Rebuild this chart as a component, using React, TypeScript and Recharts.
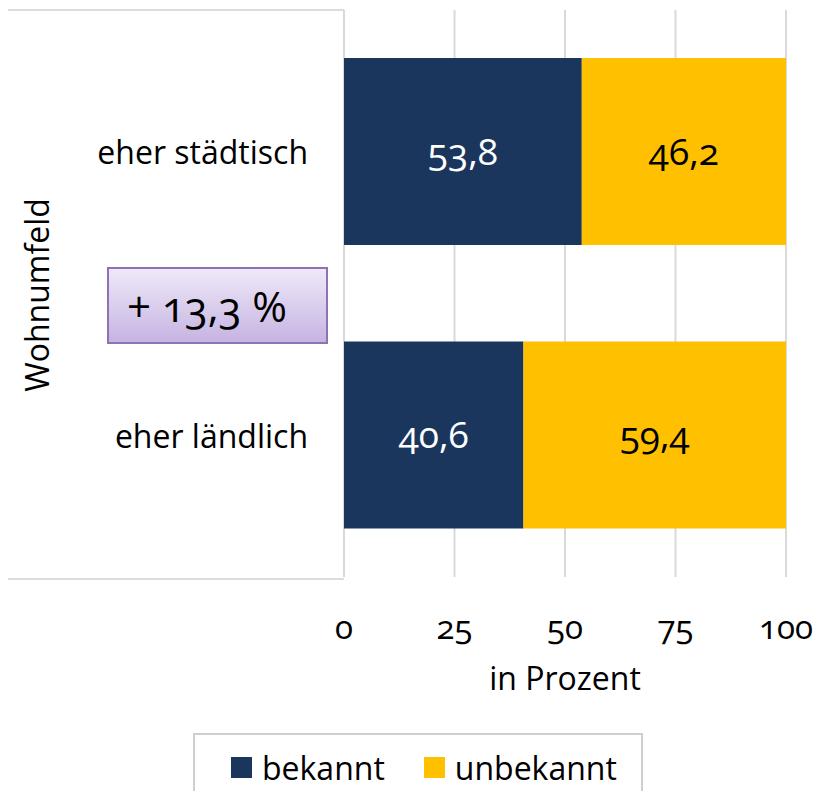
import React from 'react';
import { BarChart, Bar, XAxis, YAxis, CartesianGrid, LabelList } from 'recharts';

const categories = ['eher städtisch', 'eher ländlich'];
const bekannt = [53.8, 40.6];
const unbekannt = [46.2, 59.4];
const xTicks = [0, 25, 50, 75, 100];
const seriesNames = ['bekannt', 'unbekannt'];
const seriesColors = ['#1a365d', '#ffc000'];
const differenceLabel = '+ 13,3 %';

const data = categories.map((name, i) => ({
  name,
  bekannt: bekannt[i],
  unbekannt: unbekannt[i],
}));

const FONT = '"Open Sans", sans-serif';
const fmt = (v: any) => String(v).replace('.', ',');

const CategoryTick = ({ x, y, payload }: any) => (
  <text x={x - 28} y={y} textAnchor="end" dominantBaseline="central"
    fontFamily={FONT} fontSize={32} fill="#000">
    {payload.value}
  </text>
);

const AxisTitle = ({ viewBox }: any) => {
  const cx = viewBox.x + 36;
  const cy = 295;
  return (
    <text x={cx} y={cy} transform={`rotate(-90, ${cx}, ${cy})`} textAnchor="middle"
      dominantBaseline="central" fontFamily={FONT} fontSize={32} fill="#000">
      Wohnumfeld
    </text>
  );
};

const App: React.FC = () => {
  return (
    <div style={{ position: 'absolute', left: 0, top: 0, width: 817, height: 791, background: '#fff', overflow: 'hidden' }}>
      {/* frame round the category labels */}
      <div style={{ position: 'absolute', left: 8, top: 9, width: 336, height: 567, borderTop: '2px solid #dcdcdc', borderBottom: '2px solid #dcdcdc' }} />
      <BarChart width={817} height={791} data={data} layout="vertical"
        margin={{ top: 10, right: 31, bottom: 94, left: 0 }}
        style={{ fontFamily: FONT, position: 'absolute', left: 0, top: 0 }}>
        <CartesianGrid horizontal={false} stroke="#d9d9d9" strokeWidth={2} />
        <XAxis type="number" domain={[0, 100]} ticks={xTicks} axisLine={false} tickLine={false}
          height={120} tickMargin={33} interval={0}
          tick={{ fontSize: 33, fill: '#000', fontFamily: FONT, style: { fontVariantNumeric: 'oldstyle-nums' } }}
          label={{ value: 'in Prozent', position: 'insideBottom', offset: 7, fontSize: 32, fill: '#000', fontFamily: FONT }} />
        <YAxis type="category" dataKey="name" width={344} axisLine={false} tickLine={false}
          tick={<CategoryTick />} label={<AxisTitle />} />
        <Bar dataKey="bekannt" stackId="a" fill={seriesColors[0]} barSize={187} isAnimationActive={false}>
          <LabelList dataKey="bekannt" position="center" formatter={fmt} fill="#fff" fontSize={37}
            fontFamily={FONT} style={{ fontVariantNumeric: 'oldstyle-nums' }} />
        </Bar>
        <Bar dataKey="unbekannt" stackId="a" fill={seriesColors[1]} barSize={187} isAnimationActive={false}>
          <LabelList dataKey="unbekannt" position="center" formatter={fmt} fill="#000" fontSize={37}
            fontFamily={FONT} style={{ fontVariantNumeric: 'oldstyle-nums' }} />
        </Bar>
      </BarChart>
      {/* difference annotation */}
      <div style={{
        position: 'absolute', left: 107, top: 267, width: 221, height: 77,
        border: '2px solid #8e72b4', background: 'linear-gradient(#efe8f8, #c6b4e2)',
        fontFamily: FONT, fontSize: 42, color: '#000', display: 'flex', alignItems: 'center',
        paddingLeft: 18, boxSizing: 'border-box', fontVariantNumeric: 'oldstyle-nums',
      }}>
        {differenceLabel}
      </div>
      {/* legend */}
      <div style={{
        position: 'absolute', left: 193, top: 733, width: 450, height: 80,
        border: '2px solid #cfcfcf', boxSizing: 'border-box', fontFamily: FONT, fontSize: 32,
        display: 'flex', paddingLeft: 36, paddingTop: 6, gap: 39,
      }}>
        {seriesNames.map((n, i) => (
          <div key={n} style={{ display: 'flex', alignItems: 'center', height: 52 }}>
            <span style={{ width: 21, height: 21, background: seriesColors[i], marginRight: 10, display: 'inline-block' }} />
            <span>{n}</span>
          </div>
        ))}
      </div>
    </div>
  );
};

export default App;
